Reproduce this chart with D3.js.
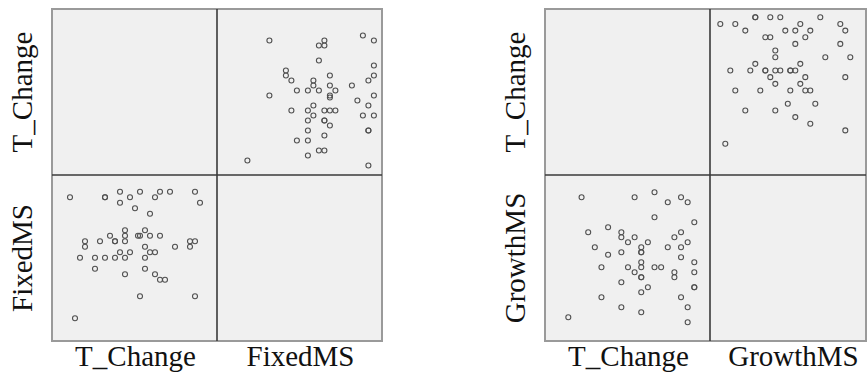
<!DOCTYPE html>
<html>
<head>
<meta charset="utf-8">
<script src="https://cdn.jsdelivr.net/npm/d3@7"></script>
<style>
    body { margin: 0; background: #fff; }
    svg { display: block; }
</style>
</head>
<body>
<svg width="867" height="375"></svg>
<script>
// left matrix: T_Change vs FixedMS
const fixedT = [5, 9, 13, 15, 20, -5, 2, 2, 7, 12, 5, 21, 8, 11, 6, 10,
                3, 6, 8.6, 9, 11, 13, -2, 1, 4, 4, 6, 19, 20, -2, 10, 16, 19,
                5, 7, 11, 12, -3, 0, 2, 4, 6, 10, 0, 10, 6, 12, 13, 14, 9, 20, -4];
const fixedMS = [23, 23, 23, 23, 23, 22, 22, 22, 22, 22, 21, 21, 20, 19, 16, 16,
                 15, 15, 15, 15, 15, 15, 14, 14, 14, 14, 14, 14, 14, 13, 13, 13, 13,
                 12, 12, 12, 12, 11, 11, 11, 11, 11, 11, 9, 9, 8, 8, 7, 7, 4, 4, 0];

// right matrix: T_Change vs GrowthMS
const growthT = [2, 10, 13, 15, 17, 18, 13, 19, 3, 6, 8, 8, 9, 10, 12, 11, 11, 11, 16, 17, 18,
                 4, 6, 8, 15, 17, 17, 5, 9, 10, 11, 11, 11, 11, 13, 14, 16, 16, 19, 19, 19, 19,
                 8, 12, 11, 5, 8, 11, 17, 18, 18, 0];
const growthMS = [25, 25, 26, 24, 25, 24, 21, 20, 18, 19, 18, 17, 16, 17, 16, 15, 14, 14, 17, 18, 16,
                  15, 13.5, 14, 15, 15, 13, 11, 11, 10, 12, 11, 9, 9, 11, 11, 10, 9, 12, 10, 7, 7,
                  8, 7, 6, 5, 3, 2, 5, 3, 0, 1];

const labelsLeft = ["T_Change", "FixedMS"];
const labelsRight = ["T_Change", "GrowthMS"];

const svg = d3.select("svg");
const cell = 165;
const yTop = 9, yMid = 175, yBottom = 341;

const drawMatrix = (x0, xRight, labels, xs, ys, sc) => {
    const g = svg.append("g");
    const xMid = x0 + cell;

    g.append("rect")
     .attr("x", x0).attr("y", yTop)
     .attr("width", xRight - x0).attr("height", yBottom - yTop)
     .style("fill", "#f0f0f0")
     .style("stroke", "#9a9a9a")
     .style("stroke-width", 2);

    g.append("line")
     .attr("x1", xMid).attr("x2", xMid).attr("y1", yTop).attr("y2", yBottom)
     .style("stroke", "#3a3a3a").style("stroke-width", 1.6);
    g.append("line")
     .attr("x1", x0).attr("x2", xRight).attr("y1", yMid).attr("y2", yMid)
     .style("stroke", "#3a3a3a").style("stroke-width", 1.6);

    const pts = xs.map((d, i) => ({t: d, m: ys[i]}));

    // bottom-left: T_Change on x, other on y
    g.selectAll(".bl")
     .data(pts)
     .enter()
     .append("circle")
     .attr("cx", d => sc.blX(d.t))
     .attr("cy", d => sc.blY(d.m))
     .attr("r", 2.5)
     .style("fill", "none")
     .style("stroke", "#505050")
     .style("stroke-width", 1.1);

    // top-right: other on x, T_Change on y
    g.selectAll(".tr")
     .data(pts)
     .enter()
     .append("circle")
     .attr("cx", d => sc.trX(d.m))
     .attr("cy", d => sc.trY(d.t))
     .attr("r", 2.5)
     .style("fill", "none")
     .style("stroke", "#505050")
     .style("stroke-width", 1.1);

    const font = "'Liberation Serif', 'Times New Roman', serif";

    labels.forEach((lab, i) => {
        g.append("text")
         .attr("transform", `translate(${x0 - 20}, ${i == 0 ? (yTop + yMid) / 2 : (yMid + yBottom) / 2}) rotate(-90)`)
         .attr("text-anchor", "middle")
         .style("font-family", font)
         .style("font-size", "29px")
         .style("fill", "#111")
         .text(lab);

        g.append("text")
         .attr("x", x0 + cell * i + cell / 2 + 1)
         .attr("y", 366)
         .attr("text-anchor", "middle")
         .style("font-family", font)
         .style("font-size", "29px")
         .style("fill", "#111")
         .text(lab);
    });
}

const xL = 52, xR = 545;

drawMatrix(xL, xL + 2 * cell, labelsLeft, fixedT, fixedMS, {
    blX: d3.scaleLinear().domain([-5, 21]).range([xL + 18, xL + 148]),
    blY: d3.scaleLinear().domain([0, 23]).range([yMid + 143.2, yMid + 16.7]),
    trX: d3.scaleLinear().domain([0, 23]).range([xL + cell + 30.4, xL + cell + 156.9]),
    trY: d3.scaleLinear().domain([-5, 21]).range([yTop + 156.5, yTop + 26.5])
});

drawMatrix(xR, 866, labelsRight, growthT, growthMS, {
    blX: d3.scaleLinear().domain([0, 19]).range([xR + 23.3, xR + 149.3]),
    blY: d3.scaleLinear().domain([0, 26]).range([yMid + 147.3, yMid + 17.3]),
    trX: d3.scaleLinear().domain([0, 26]).range([xR + cell + 10.3, xR + cell + 140.3]),
    trY: d3.scaleLinear().domain([0, 19]).range([yTop + 134.7, yTop + 8.3])
});
</script>
</body>
</html>
